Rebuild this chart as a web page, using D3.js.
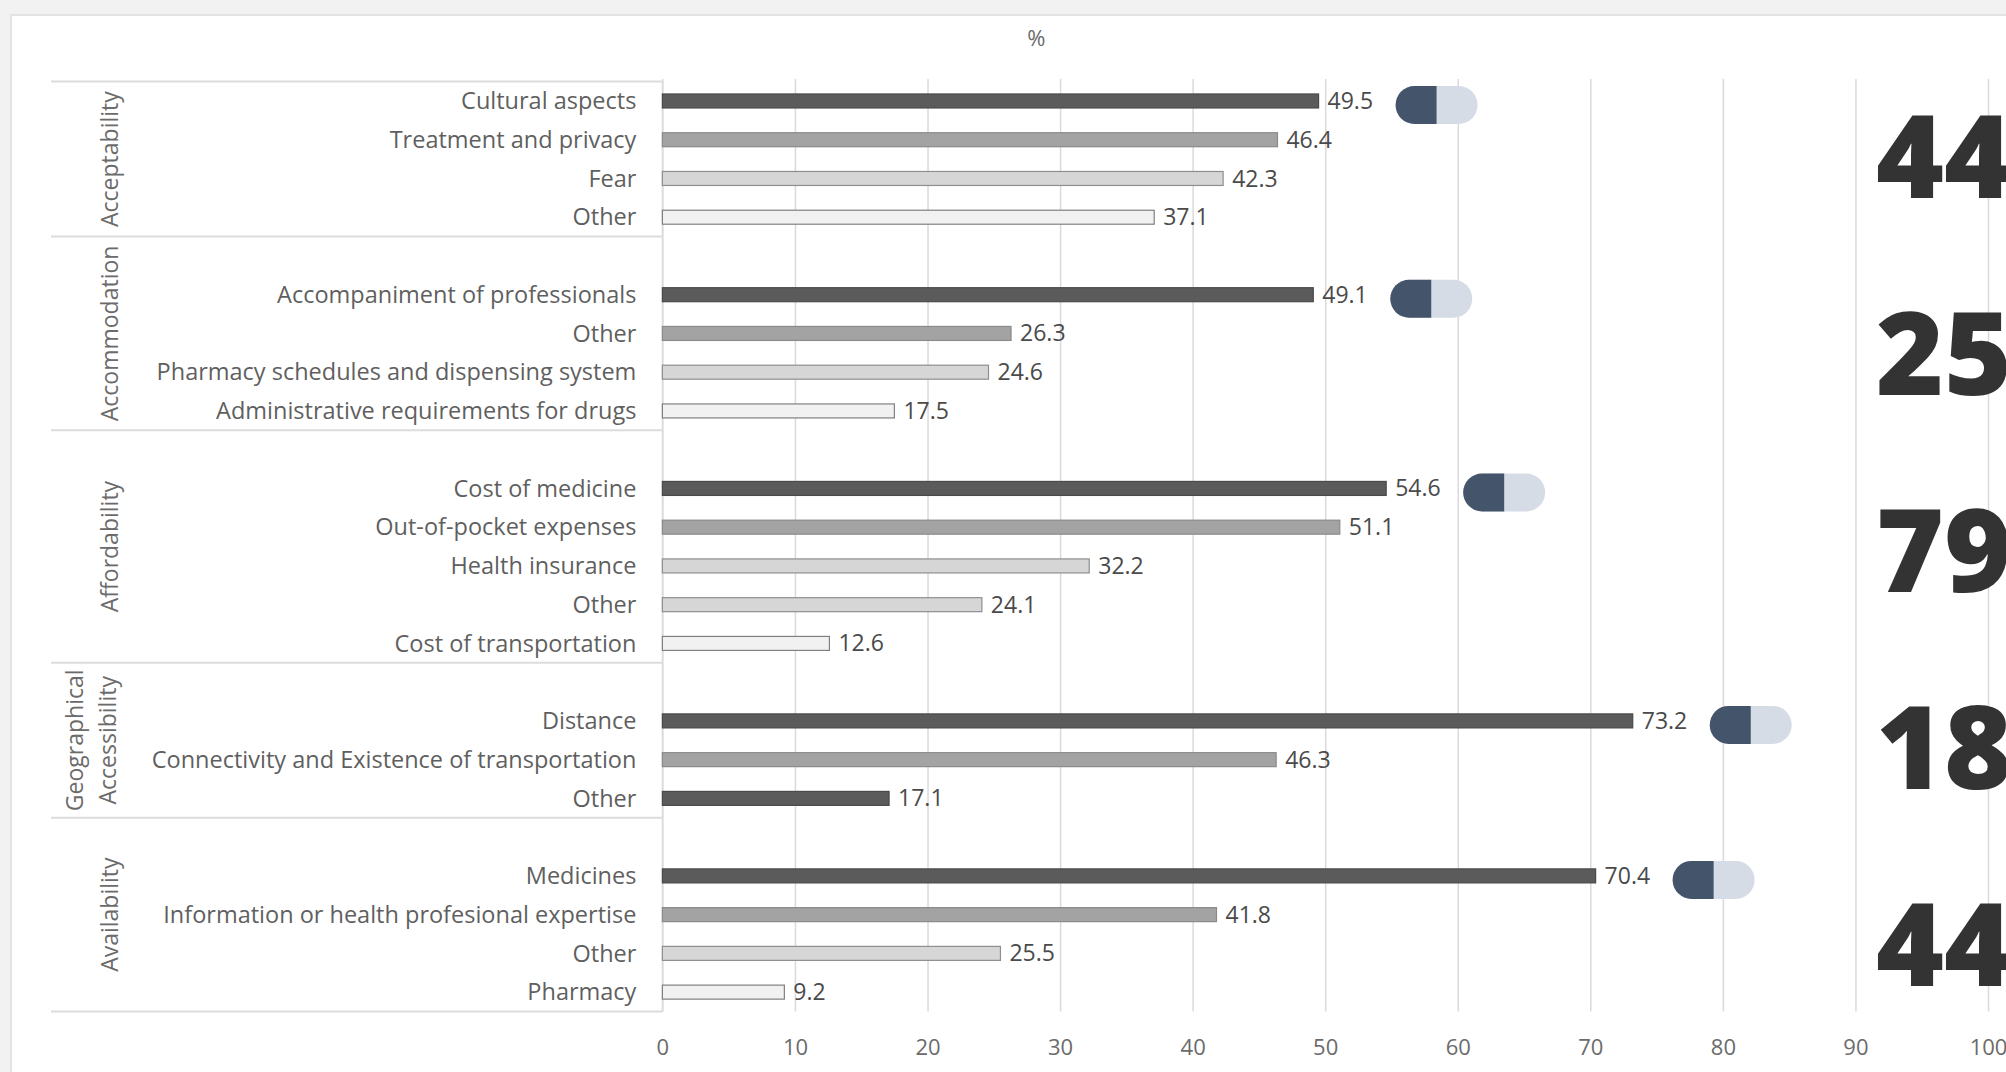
<!DOCTYPE html>
<html>
<head>
<meta charset="utf-8">
<script src="https://cdn.jsdelivr.net/npm/d3@7"></script>
<style>
    html, body { margin: 0; padding: 0; background: #f2f2f2; }
    svg { display: block; }
</style>
</head>
<body>
<svg width="2006" height="1072"></svg>
<script>
// chart data
const groups = ["Acceptability", "Accommodation", "Affordability", "Geographical Accessibility", "Availability"]

const acceptabilityLabels = ["Cultural aspects", "Treatment and privacy", "Fear", "Other"]
const acceptabilityValues = [49.5, 46.4, 42.3, 37.1]

const accommodationLabels = ["Accompaniment of professionals", "Other", "Pharmacy schedules and dispensing system", "Administrative requirements for drugs"]
const accommodationValues = [49.1, 26.3, 24.6, 17.5]

const affordabilityLabels = ["Cost of medicine", "Out-of-pocket expenses", "Health insurance", "Other", "Cost of transportation"]
const affordabilityValues = [54.6, 51.1, 32.2, 24.1, 12.6]

const geographicalLabels = ["Distance", "Connectivity and Existence of transportation", "Other"]
const geographicalValues = [73.2, 46.3, 17.1]

const availabilityLabels = ["Medicines", "Information or health profesional expertise", "Other", "Pharmacy"]
const availabilityValues = [70.4, 41.8, 25.5, 9.2]

// bar shade per row (0 dark .. 3 very light)
const acceptabilityTones = [0, 1, 2, 3]
const accommodationTones = [0, 1, 2, 3]
const affordabilityTones = [0, 1, 2, 2, 3]
const geographicalTones = [0, 1, 0]
const availabilityTones = [0, 1, 2, 3]

const xTicks = [0, 10, 20, 30, 40, 50, 60, 70, 80, 90, 100]
const axisTitle = "%"
const bigNumbers = ["44", "25", "79", "18", "44"]

const toneFill = ["#5b5b5b", "#a3a3a3", "#d6d6d6", "#f1f1f1"]
const toneStroke = ["#4a4a4a", "#8a8a8a", "#8f8f8f", "#808080"]

let groupLabels = [acceptabilityLabels, accommodationLabels, affordabilityLabels, geographicalLabels, availabilityLabels]
let groupValues = [acceptabilityValues, accommodationValues, affordabilityValues, geographicalValues, availabilityValues]
let groupTones = [acceptabilityTones, accommodationTones, affordabilityTones, geographicalTones, availabilityTones]

// one slot per category, with an empty slot heading every group after the first
let rows = []
let groupKeys = []
groups.forEach((g, gi) => {
    let keys = []
    if (gi > 0) {
        rows.push({ key: "blank" + gi, blank: true })
        keys.push("blank" + gi)
    }
    groupLabels[gi].forEach((label, i) => {
        let key = gi + "-" + i
        rows.push({ key: key, label: label, value: groupValues[gi][i], tone: groupTones[gi][i], first: i == 0 })
        keys.push(key)
    })
    groupKeys.push(keys)
})

let svg = d3.select("svg")
let font = "'Open Sans', 'Noto Sans', sans-serif"

// page frame
svg.append("rect").attr("x", 0).attr("y", 0).attr("width", 2006).attr("height", 1072).attr("fill", "#f2f2f2")
svg.append("rect").attr("x", 11).attr("y", 15).attr("width", 2000).attr("height", 1060)
    .attr("fill", "#ffffff").attr("stroke", "#e3e3e3").attr("stroke-width", 2)

let plotTop = 81.6, plotBottom = 1011.5
let x = d3.scaleLinear().domain([0, 100]).range([662.4, 1988])
let y = d3.scaleBand().domain(rows.map((d) => d.key)).range([plotTop, plotBottom])

// grid + tick labels
let axis = svg.append("g")
    .attr("transform", "translate(0," + plotBottom + ")")
    .call(d3.axisBottom(x).tickValues(xTicks).tickSize(-(plotBottom - 79)).tickPadding(28))
axis.select(".domain").remove()
axis.selectAll(".tick line").attr("stroke", "#dadada").attr("stroke-width", 1.5)
axis.selectAll(".tick text")
    .attr("fill", "#6b6b6b")
    .style("font-family", font)
    .style("font-size", "22px")

svg.append("text")
    .attr("x", x(28.2))
    .attr("y", 46)
    .attr("text-anchor", "middle")
    .attr("fill", "#6b6b6b")
    .style("font-family", font)
    .style("font-size", "22px")
    .text(axisTitle)

// category box on the left
let boxLeft = 51
let bounds = [plotTop].concat(groupKeys.map((keys) => y(keys[keys.length - 1]) + y.bandwidth()))
svg.append("g").selectAll("line")
    .data(bounds)
    .enter()
    .append("line")
    .attr("x1", boxLeft).attr("x2", x(0))
    .attr("y1", (d) => d).attr("y2", (d) => d)
    .attr("stroke", "#dcdcdc").attr("stroke-width", 2)
svg.append("line")
    .attr("x1", x(0)).attr("x2", x(0))
    .attr("y1", plotTop).attr("y2", plotBottom)
    .attr("stroke", "#dcdcdc").attr("stroke-width", 1.5)

// group names, rotated
let groupText = svg.append("g").selectAll("text")
    .data(groups)
    .enter()
    .append("text")
    .attr("transform", (d, gi) => {
        let keys = groupKeys[gi]
        let cy = (y(keys[0]) + y(keys[keys.length - 1]) + y.bandwidth()) / 2
        let cx = d.indexOf(" ") > 0 ? 90.5 : 110
        return "translate(" + cx + "," + cy + ") rotate(-90)"
    })
    .attr("text-anchor", "middle")
    .attr("fill", "#6b6b6b")
    .style("font-family", font)
    .style("font-size", "23px")
groupText.each(function (d) {
    let words = d.split(" ")
    let t = d3.select(this)
    if (words.length == 1) {
        t.append("tspan").attr("x", 0).attr("dy", "0.35em").text(d)
    } else {
        t.append("tspan").attr("x", 0).attr("dy", "-8px").text(words[0])
        t.append("tspan").attr("x", 0).attr("dy", "33px").text(words[1])
    }
})

let items = rows.filter((d) => !d.blank)

// category labels
svg.append("g").selectAll("text")
    .data(items)
    .enter()
    .append("text")
    .attr("x", x(0) - 26)
    .attr("y", (d) => y(d.key) + y.bandwidth() / 2)
    .attr("dy", "0.35em")
    .attr("text-anchor", "end")
    .attr("fill", "#5f5f5f")
    .style("font-family", font)
    .style("font-size", "23.5px")
    .text((d) => d.label)

// bars
let barH = 14
svg.append("g").selectAll("rect")
    .data(items)
    .enter()
    .append("rect")
    .attr("x", x(0))
    .attr("y", (d) => y(d.key) + y.bandwidth() / 2 - barH / 2)
    .attr("width", (d) => x(d.value) - x(0))
    .attr("height", barH)
    .attr("fill", (d) => toneFill[d.tone])
    .attr("stroke", (d) => toneStroke[d.tone])
    .attr("stroke-width", 1.2)

// value labels
svg.append("g").selectAll("text")
    .data(items)
    .enter()
    .append("text")
    .attr("x", (d) => x(d.value) + 9)
    .attr("y", (d) => y(d.key) + y.bandwidth() / 2)
    .attr("dy", "0.35em")
    .attr("fill", "#4a4a4a")
    .style("font-family", font)
    .style("font-size", "23px")
    .text((d) => d.value.toFixed(1))

// capsule icons after the top bar of each group
let pillW = 82, pillH = 38, r = pillH / 2
let pills = svg.append("g").selectAll("g")
    .data(items.filter((d) => d.first))
    .enter()
    .append("g")
    .attr("transform", (d) => "translate(" + (x(d.value) + 77) + "," + (y(d.key) + y.bandwidth() / 2 + 4 - r) + ")")
pills.append("rect")
    .attr("width", pillW).attr("height", pillH).attr("rx", r)
    .attr("fill", "#d6dce5")
pills.append("path")
    .attr("d", "M" + r + ",0 H" + pillW / 2 + " V" + pillH + " H" + r + " A" + r + "," + r + " 0 0 1 " + r + ",0 Z")
    .attr("fill", "#44546a")

// big numbers on the right edge
svg.append("g").selectAll("text")
    .data(bigNumbers)
    .enter()
    .append("text")
    .attr("x", 1876)
    .attr("y", (d, i) => 198 + i * 197)
    .attr("fill", "#333333")
    .style("font-family", font)
    .style("font-weight", 800)
    .style("font-size", "116px")
    .text((d) => d)
</script>
</body>
</html>
